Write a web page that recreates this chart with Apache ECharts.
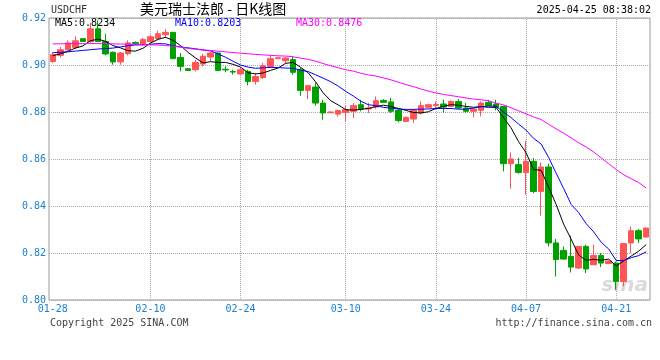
<!DOCTYPE html>
<html><head><meta charset="utf-8">
<script src="https://cdn.jsdelivr.net/npm/echarts@6/dist/echarts.min.js"></script>
<style>html,body{margin:0;padding:0;background:#fff}#c{width:660px;height:360px}</style>
</head><body><div id="c"></div>
<script>
const dates = ['01-28','01-29','01-30','01-31','02-01','02-02','02-03','02-04','02-05','02-06','02-07','02-08','02-09','02-10','02-11','02-12','02-13','02-14','02-15','02-17','02-18','02-19','02-20','02-21','02-22','02-24','02-25','02-26','02-27','02-28','03-01','03-02','03-03','03-04','03-05','03-06','03-07','03-08','03-09','03-10','03-11','03-12','03-13','03-14','03-15','03-17','03-18','03-19','03-20','03-21','03-22','03-24','03-25','03-26','03-27','03-28','03-29','03-31','04-01','04-02','04-03','04-04','04-05','04-07','04-08','04-09','04-10','04-11','04-12','04-14','04-15','04-16','04-17','04-18','04-19','04-21','04-22','04-23','04-24','04-25'];
const tickDates = ['01-28','02-10','02-24','03-10','03-24','04-07','04-21'];
const gridDates = ['02-10','02-24','03-10','03-24','04-07','04-21'];
const yTicks = [0.80,0.82,0.84,0.86,0.88,0.90,0.92];

const open = [.9015,.9041,.9065,.9075,.9112,.9100,.9154,.9100,.9054,.9013,.9048,.9096,.9086,.9100,.9112,.9129,.9139,.9032,.8984,.8980,.9004,.9034,.9051,.8982,.8972,.8962,.8973,.8930,.8947,.8994,.9027,.9018,.9023,.8980,.8892,.8906,.8838,.8797,.8791,.8798,.8803,.8831,.8813,.8821,.8849,.8843,.8807,.8760,.8770,.8796,.8820,.8828,.8834,.8824,.8845,.8817,.8803,.8807,.8841,.8834,.8824,.8580,.8576,.8543,.8590,.8462,.8566,.8243,.8211,.8186,.8136,.8228,.8150,.8189,.8155,.8157,.8079,.8243,.8295,.8268];
const close = [.9044,.9065,.9094,.9103,.9100,.9154,.9100,.9047,.9013,.9051,.9094,.9091,.9108,.9120,.9133,.9139,.9027,.8994,.8977,.9011,.9037,.9051,.8977,.8979,.8970,.8980,.8930,.8951,.8997,.9027,.9031,.9030,.8969,.8892,.8912,.8838,.8796,.8800,.8806,.8810,.8827,.8813,.8817,.8848,.8841,.8803,.8764,.8777,.8807,.8827,.8831,.8832,.8821,.8845,.8817,.8803,.8813,.8838,.8827,.8820,.8580,.8600,.8543,.8590,.8462,.8566,.8243,.8172,.8174,.8140,.8228,.8132,.8189,.8157,.8166,.8079,.8240,.8295,.8260,.8306];
const high = [.9055,.9077,.9105,.9122,.9112,.9180,.9190,.9133,.9058,.9055,.9105,.9100,.9115,.9129,.9146,.9153,.9140,.9051,.8986,.9023,.9047,.9055,.9055,.8994,.8980,.8987,.8980,.8966,.9009,.9041,.9033,.9032,.9037,.8987,.8916,.8926,.8852,.8802,.8810,.8827,.8838,.8852,.8838,.8866,.8855,.8860,.8817,.8781,.8813,.8845,.8836,.8845,.8852,.8849,.8855,.8838,.8815,.8845,.8852,.8852,.8827,.8628,.8604,.8678,.8604,.8586,.8580,.8260,.8228,.8274,.8230,.8235,.8235,.8200,.8168,.8164,.8243,.8313,.8302,.8308];
const low = [.9009,.9032,.9058,.9068,.9100,.9094,.9097,.9041,.9001,.9001,.9041,.9086,.9082,.9094,.9105,.9115,.9025,.8973,.8975,.8973,.8994,.9015,.8977,.8969,.8959,.8959,.8913,.8916,.8940,.8987,.9025,.9006,.8959,.8869,.8855,.8827,.8767,.8796,.8781,.8760,.8774,.8803,.8796,.8813,.8838,.8796,.8756,.8760,.8753,.8789,.8815,.8810,.8798,.8820,.8813,.8796,.8777,.8781,.8827,.8807,.8547,.8474,.8537,.8448,.8455,.8359,.8228,.8100,.8172,.8117,.8132,.8115,.8148,.8140,.8153,.8044,.8058,.8200,.8243,.8266];

// leading moving-average values (before enough closes exist)
const ma5Head = [.9040,.9047,.9058,.9072];
const ma10Head = [.9052,.9054,.9056,.9059,.9062,.9065,.9068,.9070,.9072];
// MA30
const ma30 = [.9090,.9090,.9091,.9091,.9091,.9091,.9091,.9090,.9090,.9089,.9089,.9088,.9087,.9086,.9085,.9083,.9080,.9076,.9071,.9067,.9064,.9062,.9059,.9056,.9053,.9050,.9048,.9045,.9043,.9041,.9039,.9038,.9035,.9029,.9024,.9016,.9006,.8997,.8988,.8980,.8974,.8965,.8958,.8953,.8945,.8937,.8927,.8917,.8908,.8898,.8889,.8881,.8875,.8870,.8865,.8860,.8855,.8852,.8848,.8838,.8830,.8818,.8805,.8792,.8779,.8768,.8748,.8728,.8710,.8690,.8669,.8651,.8630,.8605,.8580,.8555,.8533,.8516,.8500,.8476];

const legendTexts = ['MA5:0.8234','MA10:0.8203','MA30:0.8476'];
const titleText = '美元瑞士法郎 - 日K线图';
const symbolText = 'USDCHF';
const timeText = '2025-04-25 08:38:02';

function movingAvg(n, head) {
  return close.map((c, i) => {
    if (i < n - 1) return head[i];
    let s = 0;
    for (let k = i - n + 1; k <= i; k++) s += close[k];
    return +(s / n).toFixed(4);
  });
}
const ma5 = movingAvg(5, ma5Head);
const ma10 = movingAvg(10, ma10Head);

const kData = open.map((o, i) => [o, close[i], low[i], high[i]]);
const MONO = '"DejaVu Sans Mono", monospace';
const UP = '#ff5555', DOWN = '#00a000', AXISBLUE = '#1a7fd0';

const chart = echarts.init(document.getElementById('c'));
chart.setOption({
  animation: false,
  backgroundColor: '#fff',
  grid: { left: 49, top: 18, width: 601, height: 282, show: true, borderColor: '#999', borderWidth: 1 },
  xAxis: {
    type: 'category', data: dates, boundaryGap: true,
    axisLine: { show: false }, axisTick: { show: false }, splitLine: { show: false },
    axisLabel: {
      interval: (i, v) => tickDates.indexOf(v) >= 0,
      color: AXISBLUE, fontFamily: MONO, fontSize: 10, margin: 4
    }
  },
  yAxis: {
    type: 'value', min: yTicks[0], max: yTicks[yTicks.length - 1], interval: 0.02,
    axisLine: { show: false }, axisTick: { show: false },
    splitLine: { show: true, lineStyle: { type: 'dotted', color: '#aaa', width: 1 } },
    axisLabel: { formatter: v => v.toFixed(2), color: AXISBLUE, fontFamily: MONO, fontSize: 10, margin: 3 }
  },
  series: [
    {
      type: 'candlestick', data: kData, barWidth: 6, z: 3,
      itemStyle: { color: UP, color0: DOWN, borderColor: UP, borderColor0: DOWN, borderWidth: 1 },
      markLine: {
        silent: true, symbol: 'none', z: 1, animation: false,
        label: { show: false },
        lineStyle: { type: 'dotted', color: '#aaa', width: 1 },
        data: gridDates.map(d => ({ xAxis: d }))
      }
    },
    { type: 'line', data: ma5, showSymbol: false, z: 4, lineStyle: { color: '#000', width: 1 }, itemStyle: { color: '#000' } },
    { type: 'line', data: ma10, showSymbol: false, z: 4, lineStyle: { color: '#0000ff', width: 1 }, itemStyle: { color: '#0000ff' } },
    { type: 'line', data: ma30, showSymbol: false, z: 4, lineStyle: { color: '#ff00ff', width: 1 }, itemStyle: { color: '#ff00ff' } }
  ],
  graphic: [
    { type: 'text', left: 51, top: 5, style: { text: symbolText, fontFamily: MONO, fontSize: 10, fill: '#333' } },
    { type: 'text', left: 140, top: 2, style: { text: titleText, fontFamily: '"Noto Sans CJK SC", sans-serif', fontSize: 14, fill: '#000' } },
    { type: 'text', right: 9, top: 5, style: { text: timeText, fontFamily: MONO, fontSize: 10, fill: '#000' } },
    { type: 'text', left: 55, top: 18, z: 10, style: { text: legendTexts[0], fontFamily: MONO, fontSize: 10, fill: '#000' } },
    { type: 'text', left: 175, top: 18, z: 10, style: { text: legendTexts[1], fontFamily: MONO, fontSize: 10, fill: '#0000ff' } },
    { type: 'text', left: 296, top: 18, z: 10, style: { text: legendTexts[2], fontFamily: MONO, fontSize: 10, fill: '#ff00ff' } },
    { type: 'text', right: 12, top: 276, z: 0, style: { text: 'sina', fontFamily: '"DejaVu Sans", sans-serif', fontStyle: 'italic', fontWeight: 'bold', fontSize: 20, fill: 'rgba(150,150,150,0.35)' } },
    { type: 'text', left: 50, top: 318, style: { text: 'Copyright 2025 SINA.COM', fontFamily: MONO, fontSize: 10, fill: '#444' } },
    { type: 'text', right: 8, top: 318, style: { text: 'http://finance.sina.com.cn', fontFamily: MONO, fontSize: 10, fill: '#444' } }
  ]
});
</script></body></html>
